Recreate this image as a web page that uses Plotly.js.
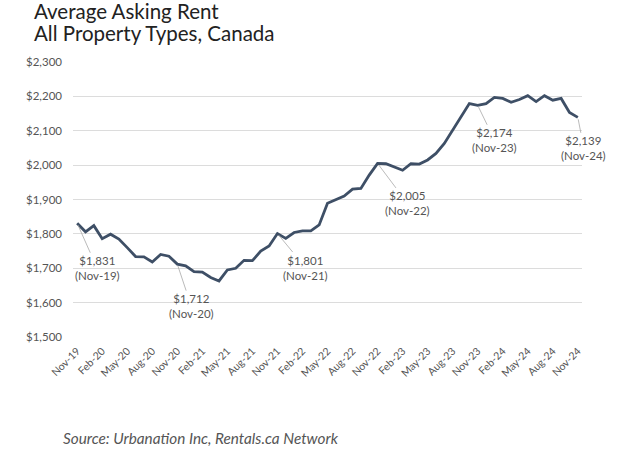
<!DOCTYPE html>
<html>
<head>
<meta charset="utf-8">
<script src="https://cdn.plot.ly/plotly-3.0.1.min.js"></script>
<style>html,body{margin:0;padding:0;background:#fff;}#chart{width:640px;height:452px;}</style>
</head>
<body>
<div id="chart"></div>
<script>
// Monthly average asking rent, Nov-19 .. Nov-24
const monthNames = ["Jan","Feb","Mar","Apr","May","Jun","Jul","Aug","Sep","Oct","Nov","Dec"];
const months = [];
for (let k = 0; k < 61; k++) {
  const m = (10 + k) % 12;
  const y = 19 + Math.floor((10 + k) / 12);
  months.push(monthNames[m] + "-" + y);
}
const rent = [
  1831, 1806, 1824, 1786, 1799, 1785, 1760, 1734, 1733, 1718, 1740, 1735,
  1712, 1707, 1690, 1689, 1673, 1663, 1695, 1700, 1723, 1722, 1750, 1765,
  1801, 1787, 1804, 1809, 1809, 1826, 1889, 1899, 1910, 1930, 1932, 1971,
  2005, 2004, 1995, 1985, 2004, 2003, 2015, 2034, 2063, 2102, 2140, 2179,
  2174, 2179, 2197, 2194, 2183, 2191, 2202, 2185, 2202, 2189, 2194, 2153,
  2139
];
const tickLabels = ["Nov-19","Feb-20","May-20","Aug-20","Nov-20","Feb-21","May-21","Aug-21","Nov-21","Feb-22","May-22","Aug-22","Nov-22","Feb-23","May-23","Aug-23","Nov-23","Feb-24","May-24","Aug-24","Nov-24"];
const yTicks = [1500, 1600, 1700, 1800, 1900, 2000, 2100, 2200, 2300];
const callouts = ["Nov-19","Nov-20","Nov-21","Nov-22","Nov-23","Nov-24"];
const calloutOffsets = [[20,45],[14,42],[28,34],[30,40],[17,35],[6,31]];
const titleLines = ["Average Asking Rent", "All Property Types, Canada"];

const FONT = "Lato, 'Open Sans', sans-serif";
const fmt = v => "$" + v.toLocaleString("en-US");

const annotations = callouts.map((lab, j) => {
  const idx = months.indexOf(lab);
  return {
    x: lab, y: rent[idx], xref: "x", yref: "y",
    text: fmt(rent[idx]) + "<br>(" + lab + ")",
    showarrow: true, arrowhead: 0, arrowwidth: 0.8, arrowcolor: "#a8a8a8",
    ax: calloutOffsets[j][0], ay: calloutOffsets[j][1],
    font: {family: FONT, size: 11.5, color: "#555"},
    align: "center", standoff: 2
  };
});
// title lines (placed relative to plot top)
[51, 29].forEach((shift, j) => {
  annotations.push({
    xref: "paper", yref: "paper", x: 0, y: 1,
    xshift: -41, yshift: shift, xanchor: "left", yanchor: "middle",
    text: titleLines[j], showarrow: false,
    font: {family: FONT, size: 20.5, color: "#222"}
  });
});
annotations.push({
  xref: "paper", yref: "paper", x: 0, y: 0,
  xshift: -12, yshift: -101, xanchor: "left", yanchor: "middle",
  text: "<i>Source: Urbanation Inc, Rentals.ca Network</i>",
  showarrow: false,
  font: {family: FONT, size: 15.3, color: "#555"}
});

const trace = {
  x: months, y: rent, type: "scatter", mode: "lines",
  line: {color: "#3e4f66", width: 2.8},
  hoverinfo: "skip"
};

const layout = {
  width: 640, height: 452,
  margin: {l: 73, r: 58, t: 62, b: 115},
  paper_bgcolor: "#fff", plot_bgcolor: "#fff",
  showlegend: false,
  xaxis: {
    type: "category", range: [-0.5, 60.5],
    tickmode: "array", tickvals: tickLabels, ticktext: tickLabels,
    tickangle: -45, showgrid: false, zeroline: false, showline: false,
    ticks: "", ticklen: 0, ticklabelstandoff: 5,
    tickfont: {family: FONT, size: 10.5, color: "#555"}
  },
  yaxis: {
    range: [1500, 2300], tickmode: "array", tickvals: yTicks,
    ticktext: yTicks.map(fmt),
    showgrid: true, gridcolor: "#dcdcdc", gridwidth: 1,
    zeroline: false, showline: false, ticks: "", ticklabelstandoff: 10,
    tickfont: {family: FONT, size: 11.5, color: "#555"}
  },
  annotations: annotations
};

Plotly.newPlot("chart", [trace], layout, {staticPlot: true, displayModeBar: false});
</script>
</body>
</html>
